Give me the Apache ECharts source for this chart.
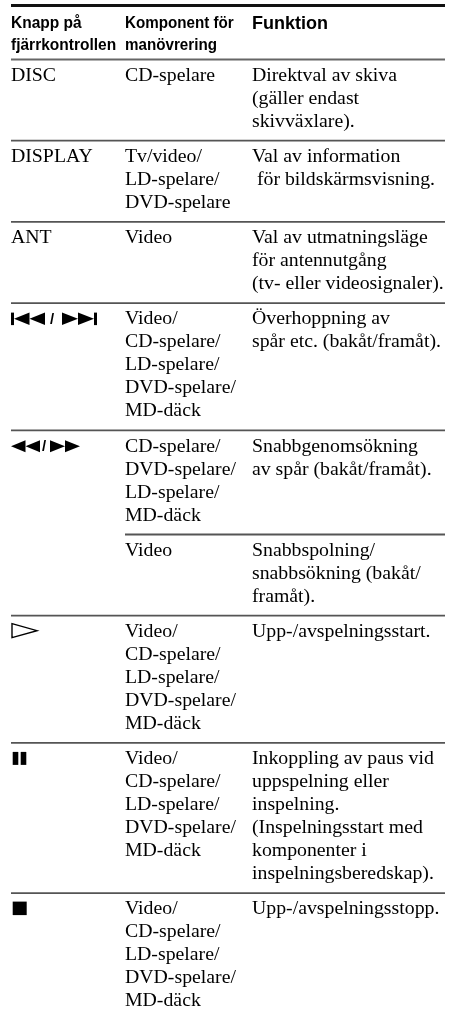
<!DOCTYPE html>
<html><head><meta charset="utf-8">
<script src="https://cdn.jsdelivr.net/npm/echarts@6/dist/echarts.min.js"></script>
<style>html,body{margin:0;padding:0;background:#fff}#c{width:453px;height:1018px}</style>
</head><body><div id="c"></div>
<script>
// ---- data ----
const headerKey = ["Knapp på", "fjärrkontrollen"];
const headerComp = ["Komponent för", "manövrering"];
const headerFunc = ["Funktion"];
const keys = ["DISC", "DISPLAY", "ANT", "|◀◀/▶▶|", "◀◀/▶▶", "", "▷", "❚❚", "■"];
const components = [
  ["CD-spelare"],
  ["Tv/video/", "LD-spelare/", "DVD-spelare"],
  ["Video"],
  ["Video/", "CD-spelare/", "LD-spelare/", "DVD-spelare/", "MD-däck"],
  ["CD-spelare/", "DVD-spelare/", "LD-spelare/", "MD-däck"],
  ["Video"],
  ["Video/", "CD-spelare/", "LD-spelare/", "DVD-spelare/", "MD-däck"],
  ["Video/", "CD-spelare/", "LD-spelare/", "DVD-spelare/", "MD-däck"],
  ["Video/", "CD-spelare/", "LD-spelare/", "DVD-spelare/", "MD-däck"]
];
const functions = [
  ["Direktval av skiva", "(gäller endast", "skivväxlare)."],
  ["Val av information", " för bildskärmsvisning."],
  ["Val av utmatningsläge", "för antennutgång", "(tv- eller videosignaler)."],
  ["Överhoppning av", "spår etc. (bakåt/framåt)."],
  ["Snabbgenomsökning", "av spår (bakåt/framåt)."],
  ["Snabbspolning/", "snabbsökning (bakåt/", "framåt)."],
  ["Upp-/avspelningsstart."],
  ["Inkoppling av paus vid", "uppspelning eller", "inspelning.", "(Inspelningsstart med", "komponenter i", "inspelningsberedskap)."],
  ["Upp-/avspelningsstopp."]
];

// ---- layout ----
const W = 453, H = 1018;
const colX = [11, 125, 252];
const rightX = 445;
const topLineY = 5.5;
const headerSepY = 59.5;
const headerBase = [28.5, 50];
const LH = 23;          // line height
const firstBase = 22;   // separator -> first baseline
const rowPad = 12.2;    // extra height per row
const FS = 19.8;
const bodyFont = FS + 'px "Liberation Serif", "Times New Roman", serif';
const HFS = 16.5;
const headFont = 'bold ' + HFS + 'px "Liberation Sans", Arial, sans-serif';
const headFontBig = 'bold 18px "Liberation Sans", Arial, sans-serif';

const rowTops = [];
(function () {
  let y = headerSepY;
  for (let i = 0; i < keys.length; i++) {
    rowTops.push(y);
    const n = Math.max(components[i].length, functions[i].length, 1);
    y += n * LH + rowPad;
  }
})();

const seriesData = [[-1, 0]].concat(keys.map((k, i) => [i, rowTops[i]]));

function textEl(api, x, base, str, font, fs, sx) {
  const p = api.coord([x, base - 0.30 * fs]);
  return {
    type: 'text', x: p[0], y: p[1], scaleX: sx || 1,
    style: { text: str, font: font, fill: '#000', align: 'left', verticalAlign: 'middle',
      textAlign: 'left', textVerticalAlign: 'middle' }
  };
}
function lineEl(api, x1, x2, y, color, w) {
  const a = api.coord([x1, y]), b = api.coord([x2, y]);
  return { type: 'line', shape: { x1: a[0], y1: a[1], x2: b[0], y2: b[1] },
    style: { stroke: color, lineWidth: w } };
}
function poly(api, pts, fill) {
  return { type: 'polygon', shape: { points: pts.map(q => api.coord(q)) }, style: { fill: fill } };
}
function rect(api, x, y, w, h) {
  const a = api.coord([x, y]);
  return { type: 'rect', shape: { x: a[0], y: a[1], width: w, height: h }, style: { fill: '#000' } };
}

function iconEls(api, key, b) {
  const els = [];
  const slash = (x) => {
    const p = api.coord([x, b - 5.5]);
    els.push({ type: 'text', x: p[0], y: p[1],
      style: { text: '/', font: 'bold 15px "Liberation Sans", Arial, sans-serif', fill: '#000',
        align: 'left', verticalAlign: 'middle' } });
  };
  const h = 12.5;
  if (key === "|◀◀/▶▶|") {
    els.push(rect(api, 11, b - h, 3, h));
    els.push(poly(api, [[14, b - h / 2], [29.5, b - h], [29.5, b]], '#000'));
    els.push(poly(api, [[29.5, b - h / 2], [45, b - h], [45, b]], '#000'));
    slash(50);
    els.push(poly(api, [[62, b - h], [62, b], [78, b - h / 2]], '#000'));
    els.push(poly(api, [[78, b - h], [78, b], [94, b - h / 2]], '#000'));
    els.push(rect(api, 94, b - h, 3, h));
  } else if (key === "◀◀/▶▶") {
    const hh = 12;
    els.push(poly(api, [[11, b - hh / 2], [25.5, b - hh], [25.5, b]], '#000'));
    els.push(poly(api, [[25.5, b - hh / 2], [40, b - hh], [40, b]], '#000'));
    slash(42);
    els.push(poly(api, [[50, b - hh], [50, b], [65, b - hh / 2]], '#000'));
    els.push(poly(api, [[65, b - hh], [65, b], [80, b - hh / 2]], '#000'));
  } else if (key === "▷") {
    els.push({ type: 'polygon',
      shape: { points: [[12, b - 14], [12, b], [37, b - 7]].map(q => api.coord(q)) },
      style: { fill: 'none', stroke: '#000', lineWidth: 1.4, lineJoin: 'miter' } });
  } else if (key === "❚❚") {
    els.push(rect(api, 12.7, b - 13, 5.6, 13));
    els.push(rect(api, 20.7, b - 13, 5.6, 13));
  } else if (key === "■") {
    els.push(rect(api, 12.7, b - 13.5, 14, 13.5));
  } else if (key) {
    els.push(textEl(api, colX[0], b, key, bodyFont, FS));
  }
  return els;
}

function renderItem(params, api) {
  const idx = api.value(0);
  const children = [];
  if (idx < 0) {
    children.push(lineEl(api, colX[0], rightX, topLineY, '#111', 3));
    headerKey.forEach((t, i) => children.push(textEl(api, colX[0], headerBase[i], t, headFont, HFS, 0.94)));
    headerComp.forEach((t, i) => children.push(textEl(api, colX[1], headerBase[i], t, headFont, HFS, 0.92)));
    headerFunc.forEach((t, i) => children.push(textEl(api, colX[2], headerBase[i] + 0.5, t, headFontBig, 18)));
    children.push(lineEl(api, colX[0], rightX, headerSepY, '#666', 1.8));
    return { type: 'group', children };
  }
  const top = api.value(1);
  if (idx > 0) {
    const x1 = keys[idx] === "" ? colX[1] : colX[0];
    children.push(lineEl(api, x1, rightX, top, '#555', 1.8));
  }
  const b0 = top + firstBase;
  iconEls(api, keys[idx], b0).forEach(e => children.push(e));
  components[idx].forEach((t, i) => children.push(textEl(api, colX[1], b0 + i * LH, t, bodyFont, FS)));
  functions[idx].forEach((t, i) => children.push(textEl(api, colX[2], b0 + i * LH, t, bodyFont, FS)));
  return { type: 'group', children };
}

const chart = echarts.init(document.getElementById('c'), null, { renderer: 'canvas' });
chart.setOption({
  animation: false,
  backgroundColor: '#fff',
  grid: { left: 0, right: 0, top: 0, bottom: 0 },
  xAxis: { type: 'value', min: 0, max: W, show: false },
  yAxis: { type: 'value', min: 0, max: H, inverse: true, show: false },
  series: [{
    type: 'custom', coordinateSystem: 'cartesian2d', clip: false,
    encode: { x: 0, y: 1 },
    data: seriesData, renderItem: renderItem, silent: true
  }]
});
</script>
</body></html>
